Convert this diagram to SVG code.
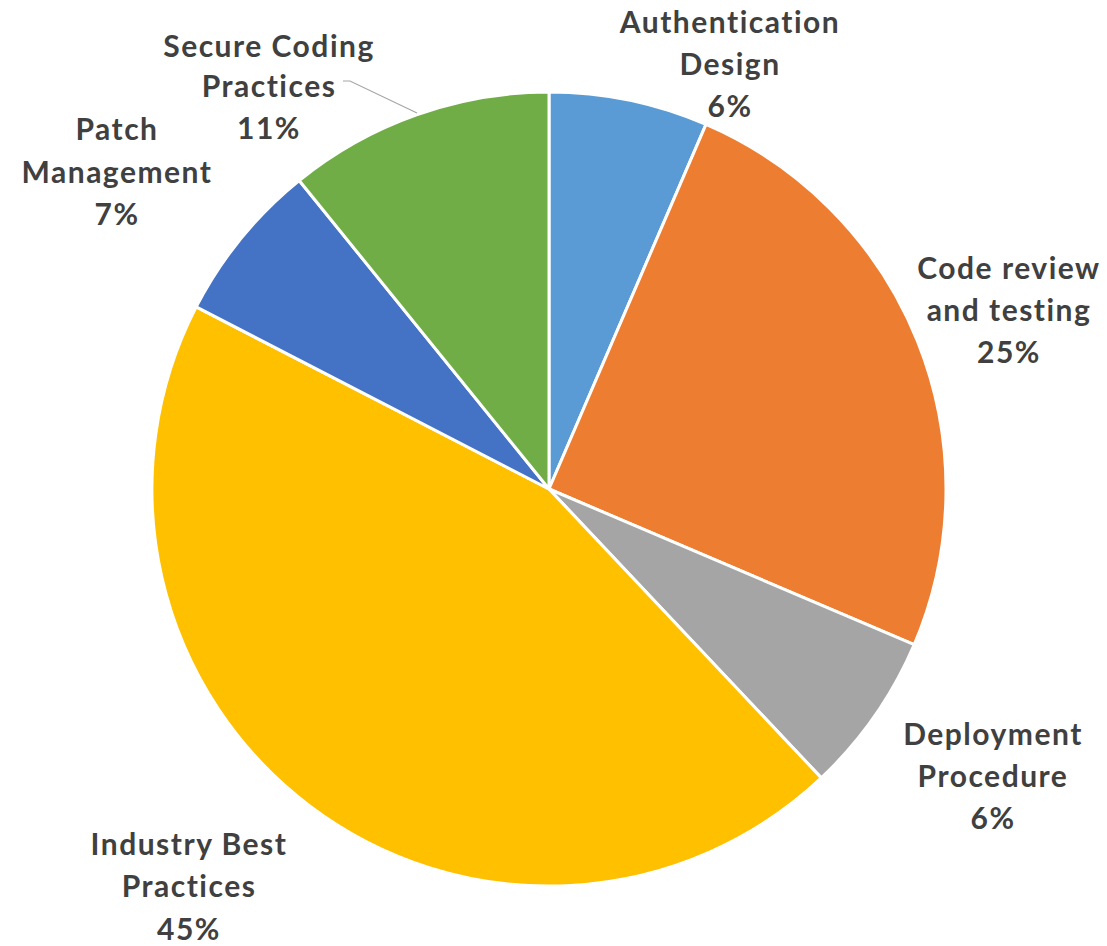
<svg xmlns="http://www.w3.org/2000/svg" width="1107" height="946" viewBox="0 0 1107 946">
<style>
.s{stroke:#fff;stroke-width:3;stroke-linejoin:round}
.t{font-family:Lato,"Liberation Sans",sans-serif;font-weight:bold;font-size:30px;letter-spacing:1.5px;fill:#404040;text-anchor:middle}
</style>
<rect width="1107" height="946" fill="#fff"/>
<g id="slices">
<g id="auth"><path class="s" fill="#5B9BD5" d="M549,489 L549,92 A397,397 0 0 1 706,124.4 Z"/></g>
<g id="code"><path class="s" fill="#ED7D31" d="M549,489 L706,124.4 A397,397 0 0 1 914.2,644.7 Z"/></g>
<g id="deploy"><path class="s" fill="#A5A5A5" d="M549,489 L914.2,644.7 A397,397 0 0 1 821.3,777.9 Z"/></g>
<g id="industry"><path class="s" fill="#FFC000" d="M549,489 L821.3,777.9 A397,397 0 0 1 196.2,306.9 Z"/></g>
<g id="patch"><path class="s" fill="#4472C4" d="M549,489 L196.2,306.9 A397,397 0 0 1 299.2,180.5 Z"/></g>
<g id="secure"><path class="s" fill="#70AD47" d="M549,489 L299.2,180.5 A397,397 0 0 1 549,92 Z"/></g>
</g>
<g id="connectors">
<polyline points="343,81 350,81 417,113" fill="none" stroke="#A6A6A6" stroke-width="1.2"/>
</g>
<g id="labels">
<g id="l-secure"><text class="t" x="269" y="57">Secure Coding</text><text class="t" x="269" y="97">Practices</text><text class="t" x="269" y="139">11%</text></g>
<g id="l-auth"><text class="t" x="730" y="33">Authentication</text><text class="t" x="730" y="75">Design</text><text class="t" x="730" y="117">6%</text></g>
<g id="l-patch"><text class="t" x="117" y="140">Patch</text><text class="t" x="117" y="183">Management</text><text class="t" x="117" y="225">7%</text></g>
<g id="l-code"><text class="t" x="1009" y="279">Code review</text><text class="t" x="1009" y="321">and testing</text><text class="t" x="1009" y="363">25%</text></g>
<g id="l-deploy"><text class="t" x="993" y="745">Deployment</text><text class="t" x="993" y="787">Procedure</text><text class="t" x="993" y="829">6%</text></g>
<g id="l-industry"><text class="t" x="189" y="855">Industry Best</text><text class="t" x="189" y="897">Practices</text><text class="t" x="189" y="940">45%</text></g>
</g>
</svg>
